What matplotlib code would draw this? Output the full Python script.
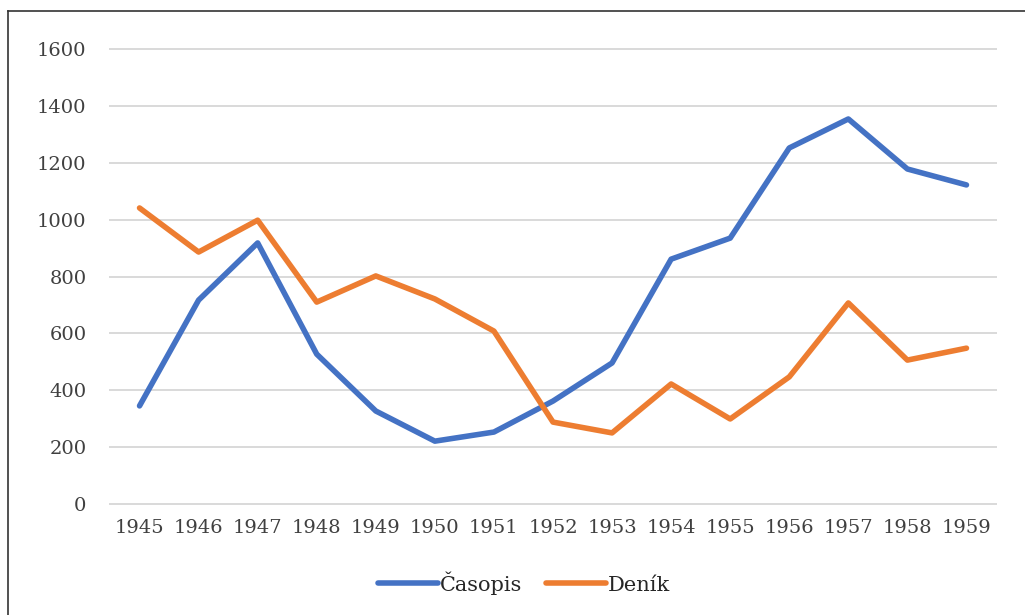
import matplotlib
matplotlib.use('Agg')
import matplotlib.pyplot as plt
from matplotlib.lines import Line2D

years = ['1945', '1946', '1947', '1948', '1949', '1950', '1951', '1952',
         '1953', '1954', '1955', '1956', '1957', '1958', '1959']
casopis = [345, 717, 918, 527, 327, 221, 253, 362, 496, 861, 935, 1252, 1354, 1178, 1122]
denik = [1041, 886, 998, 710, 802, 721, 608, 288, 250, 422, 299, 447, 707, 506, 548]

plt.rcParams['font.family'] = ['DejaVu Serif']

fig = plt.figure(figsize=(10.25, 6.15), dpi=100)
ax = fig.add_axes([110 / 1025, 1 - 504 / 615, (996 - 110) / 1025, (504 - 49) / 615])

x = range(len(years))
ax.plot(x, casopis, color='#4472C4', lw=4, label='Časopis', solid_capstyle='round', solid_joinstyle='round')
ax.plot(x, denik, color='#ED7D31', lw=4, label='Deník', solid_capstyle='round', solid_joinstyle='round')

ax.set_xlim(-0.5, len(years) - 0.5)
ax.set_ylim(0, 1600)
ax.set_yticks(range(0, 1601, 200))
ax.set_xticks(list(x))
ax.set_xticklabels(years)
ax.grid(axis='y', color='#D9D9D9', lw=1.4)
ax.set_axisbelow(True)
for gl in ax.yaxis.get_gridlines():
    gl.set_clip_on(False)
for s in ax.spines.values():
    s.set_visible(False)
ax.tick_params(length=0, colors='#404040', labelsize=14)
ax.tick_params(axis='x', pad=11)
ax.tick_params(axis='y', pad=17)

fig.legend(loc='center', bbox_to_anchor=(524 / 1025, 1 - 583 / 615), ncol=2, frameon=False,
           fontsize=15, handlelength=2.9, handletextpad=0.1, columnspacing=1.1,
           labelcolor='#262626')

# outer frame (top and left only)
fig.add_artist(Line2D([8 / 1025, 8 / 1025], [0, 1 - 11 / 615], color='#333333', lw=1.2, transform=fig.transFigure))
fig.add_artist(Line2D([8 / 1025, 1], [1 - 11 / 615, 1 - 11 / 615], color='#333333', lw=1.2, transform=fig.transFigure))

fig.savefig('out.png', dpi=100)
